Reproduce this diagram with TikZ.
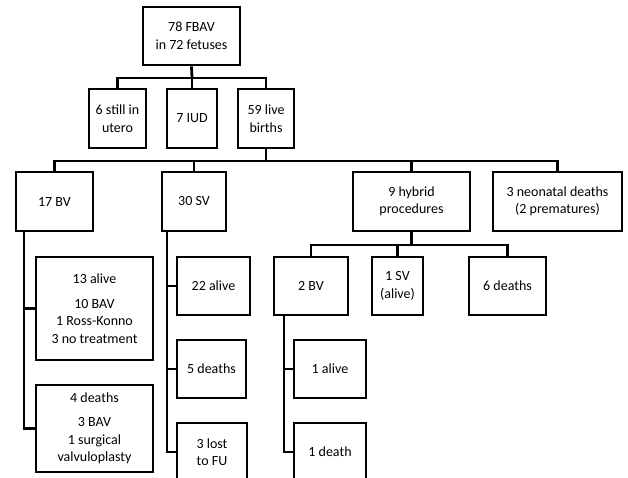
\documentclass[tikz,border=0pt]{standalone}
\usepackage{fontspec}
\setmainfont{Carlito}
\begin{document}
\begin{tikzpicture}[x=1pt,y=-1pt,
  box/.style={draw=black,line width=2.8pt,inner sep=0pt,align=center,text=black,font=\fontsize{14}{17.5}\selectfont},
  link/.style={draw=black,line width=2.8pt}]
\useasboundingbox (0,0) rectangle (628,478);
\clip (0,0) rectangle (628,478);
% level 0
\node[box,minimum width=97pt,minimum height=58pt] (top) at (191.5,36) {78 FBAV\\in 72 fetuses};
% level 1
\node[box,minimum width=57pt,minimum height=59pt] (still) at (117.5,118.5) {6 still in\\utero};
\node[box,minimum width=50pt,minimum height=59pt] (iud) at (192,118.5) {7 IUD};
\node[box,minimum width=56pt,minimum height=59pt] (live) at (266,118.5) {59 live\\births};
% level 2
\node[box,minimum width=77pt,minimum height=59pt] (bv17) at (54.5,201.5) {17 BV};
\node[box,minimum width=64pt,minimum height=59pt] (sv30) at (194,201.5) {30 SV};
\node[box,minimum width=117pt,minimum height=59pt] (hyb) at (411.5,201.5) {9 hybrid\\procedures};
\node[box,minimum width=129pt,minimum height=59pt] (neo) at (557.5,201.5) {3 neonatal deaths\\(2 prematures)};
% hybrid children
\node[box,minimum width=74pt,minimum height=58pt] (bv2) at (311,286) {2 BV};
\node[box,minimum width=51pt,minimum height=58pt] (sv1) at (397.5,286) {1 SV\\(alive)};
\node[box,minimum width=77pt,minimum height=58pt] (d6) at (507.5,286) {6 deaths};
% BV children
\node[box,minimum width=117pt,minimum height=103pt] (alive13) at (94.5,308.5) {13 alive\\[7pt]10 BAV\\1 Ross-Konno\\3 no treatment};
\node[box,minimum width=117pt,minimum height=87pt] (deaths4) at (94.5,428.5) {4 deaths\\[7pt]3 BAV\\1 surgical\\valvuloplasty};
% SV children
\node[box,minimum width=73pt,minimum height=58pt] (alive22) at (213.5,286) {22 alive};
\node[box,minimum width=69pt,minimum height=58pt] (d5) at (211.5,369) {5 deaths};
\node[box,minimum width=70pt,minimum height=58pt] (lost3) at (212,452) {3 lost\\to FU};
% 2 BV children
\node[box,minimum width=72pt,minimum height=58pt] (alive1) at (330,369) {1 alive};
\node[box,minimum width=72pt,minimum height=58pt] (death1) at (330,452) {1 death};
% connectors level 0 -> 1
\coordinate (j0) at (192,78);
\draw[link] (top.south) -- (j0);
\draw[link] (still.north) |- (j0) -| (live.north);
\draw[link] (iud.north) -- (j0);
% level 1 -> 2
\coordinate (j1) at (266,161);
\draw[link] (live.south) -- (j1);
\draw[link] (bv17.north) |- (j1) -| (neo.north);
\draw[link] (sv30.north) |- (j1);
\draw[link] (hyb.north) |- (j1);
% hybrid -> children
\coordinate (j2) at (411.5,245);
\draw[link] (hyb.south) -- (j2);
\draw[link] (bv2.north) |- (j2) -| (d6.north);
\draw[link] (sv1.north) |- (j2);
% 17 BV branch
\coordinate (v1) at (24,231);
\draw[link] (v1) |- (alive13.west);
\draw[link] (v1) |- (deaths4.west);
% 30 SV branch
\coordinate (v2) at (167,231);
\draw[link] (v2) |- (alive22.west);
\draw[link] (v2) |- (d5.west);
\draw[link] (v2) |- (lost3.west);
% 2 BV branch
\coordinate (v3) at (284,315);
\draw[link] (v3) |- (alive1.west);
\draw[link] (v3) |- (death1.west);
\end{tikzpicture}
\end{document}
